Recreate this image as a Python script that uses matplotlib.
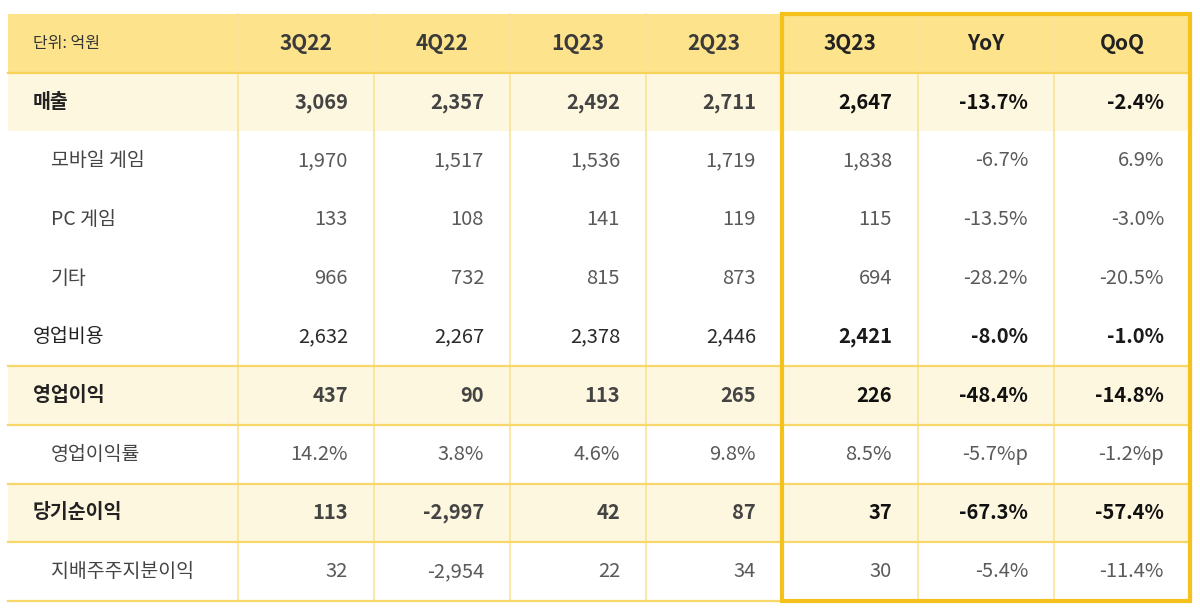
import matplotlib.pyplot as plt
from matplotlib.patches import Rectangle

plt.rcParams['font.family'] = ['Noto Sans CJK KR', 'DejaVu Sans']

# 표 데이터 (단위: 억원)
unit_label = '단위: 억원'
columns = ['3Q22', '4Q22', '1Q23', '2Q23', '3Q23', 'YoY', 'QoQ']
row_labels = ['매출', '모바일 게임', 'PC 게임', '기타', '영업비용',
              '영업이익', '영업이익률', '당기순이익', '지배주주지분이익']
sub_rows = [False, True, True, True, False, False, True, False, True]
highlight_rows = [True, False, False, False, False, True, False, True, False]

q3_22 = ['3,069', '1,970', '133', '966', '2,632', '437', '14.2%', '113', '32']
q4_22 = ['2,357', '1,517', '108', '732', '2,267', '90', '3.8%', '-2,997', '-2,954']
q1_23 = ['2,492', '1,536', '141', '815', '2,378', '113', '4.6%', '42', '22']
q2_23 = ['2,711', '1,719', '119', '873', '2,446', '265', '9.8%', '87', '34']
q3_23 = ['2,647', '1,838', '115', '694', '2,421', '226', '8.5%', '37', '30']
yoy = ['-13.7%', '-6.7%', '-13.5%', '-28.2%', '-8.0%', '-48.4%', '-5.7%p', '-67.3%', '-5.4%']
qoq = ['-2.4%', '6.9%', '-3.0%', '-20.5%', '-1.0%', '-14.8%', '-1.2%p', '-57.4%', '-11.4%']
table = [q3_22, q4_22, q1_23, q2_23, q3_23, yoy, qoq]

# 레이아웃 (픽셀)
left, first_w, col_w = 8, 230, 136
top, row_h = 14, 58.7
col_edges = [left, left + first_w] + [left + first_w + col_w * (i + 1) for i in range(len(columns))]
n_rows = len(row_labels) + 1
row_edges = [top + row_h * i for i in range(n_rows + 1)]
right = col_edges[-1]
bottom = row_edges[-1]

header_bg = '#FCE38C'
hl_bg = '#FEF7E0'
line_c = '#F9E39A'
border_c = '#F5C21B'

fig = plt.figure(figsize=(12, 6.1), dpi=100)
ax = fig.add_axes([0, 0, 1, 1])
ax.set_xlim(0, 1200)
ax.set_ylim(610, 0)
ax.axis('off')

# 배경
ax.add_patch(Rectangle((left, top), right - left, row_h, facecolor=header_bg, edgecolor='none'))
for i, hl in enumerate(highlight_rows):
    if hl:
        y0 = row_edges[i + 1]
        ax.add_patch(Rectangle((left, y0), right - left, row_h, facecolor=hl_bg, edgecolor='none'))

# 세로선
for x in col_edges[1:-1]:
    ax.plot([x, x], [top, bottom], color=line_c, lw=1.2, zorder=2)

# 가로선
ax.plot([left, right], [row_edges[1], row_edges[1]], color='#F8D35A', lw=1.6, zorder=2)
for i in range(6, n_rows + 1):
    ax.plot([left, right], [row_edges[i], row_edges[i]], color='#F8D76A', lw=1.6, zorder=2)

# 3Q23 강조 테두리
ax.add_patch(Rectangle((col_edges[5], top), right - col_edges[5], bottom - top,
                       facecolor='none', edgecolor=border_c, lw=3, zorder=4))

# 헤더 텍스트
ax.text(left + 25, top + row_h / 2, unit_label, ha='left', va='center',
        fontsize=11.5, color='#333333')
for j, name in enumerate(columns):
    cx = (col_edges[j + 1] + col_edges[j + 2]) / 2
    ax.text(cx, top + row_h / 2, name, ha='center', va='center',
            fontsize=15, color='#3a3a3a' if j < 4 else '#222222', fontweight='bold')

# 본문
for i, label in enumerate(row_labels):
    cy = row_edges[i + 1] + row_h / 2
    sub = sub_rows[i]
    if sub:
        lw_left, lw_right, c_left, c_right = 'normal', 'normal', '#5a5a5a', '#5a5a5a'
        lab_w, lab_c = 'normal', '#444444'
    elif highlight_rows[i]:
        lw_left, lw_right, c_left, c_right = 'bold', 'bold', '#444444', '#111111'
        lab_w, lab_c = 'bold', '#222222'
    else:
        lw_left, lw_right, c_left, c_right = 'normal', 'bold', '#2a2a2a', '#1a1a1a'
        lab_w, lab_c = 'normal', '#222222'
    ax.text(left + (43 if sub else 25), cy, label, ha='left', va='center',
            fontsize=14, color=lab_c, fontweight=lab_w)
    for j, col in enumerate(table):
        rx = col_edges[j + 2] - 26
        ax.text(rx, cy, col[i], ha='right', va='center', fontsize=14.5,
                color=c_left if j < 4 else c_right,
                fontweight=lw_left if j < 4 else lw_right)

fig.savefig('out.png', dpi=100, facecolor='white')
